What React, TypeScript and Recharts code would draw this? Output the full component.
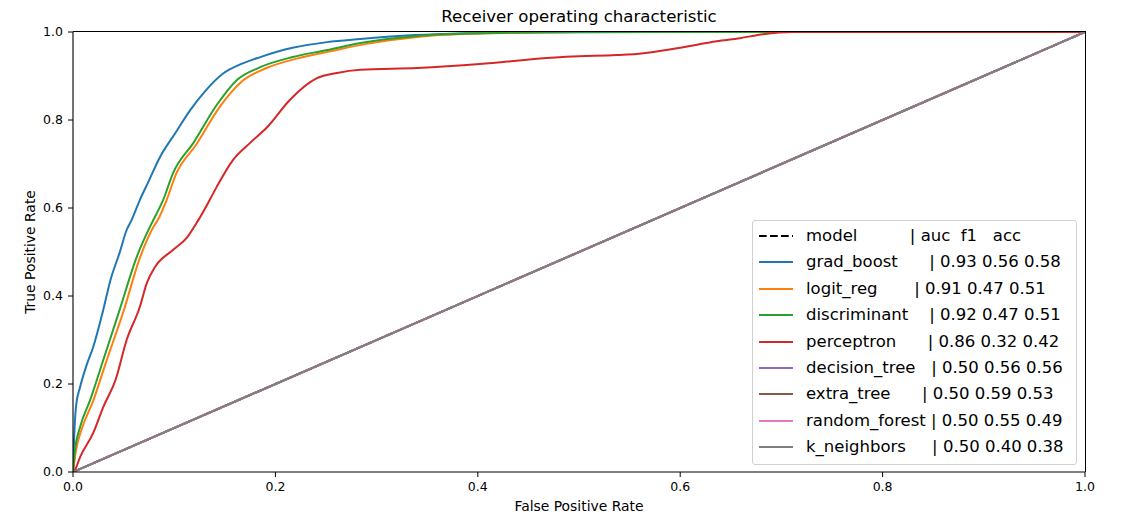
import { Line, LineChart, XAxis, YAxis } from "recharts";

// ROC points
const gradBoostFpr = [0, 0.001, 0.003, 0.007, 0.013, 0.02, 0.029, 0.037, 0.046, 0.053, 0.058, 0.066, 0.074, 0.086, 0.101, 0.116, 0.13, 0.148, 0.167, 0.185, 0.217, 0.251, 0.284, 0.33, 0.373, 0.45, 0.6, 1.0];
const gradBoostTpr = [0, 0.07, 0.15, 0.193, 0.24, 0.284, 0.36, 0.436, 0.498, 0.55, 0.573, 0.618, 0.657, 0.716, 0.77, 0.823, 0.864, 0.905, 0.928, 0.943, 0.964, 0.977, 0.984, 0.992, 0.996, 0.999, 1.0, 1.0];

const logitRegFpr = [0, 0.003, 0.009, 0.02, 0.033, 0.05, 0.066, 0.079, 0.085, 0.092, 0.102, 0.122, 0.145, 0.166, 0.19, 0.222, 0.256, 0.29, 0.345, 0.41, 0.5, 0.7, 1.0];
const logitRegTpr = [0, 0.05, 0.1, 0.162, 0.252, 0.366, 0.486, 0.555, 0.578, 0.615, 0.678, 0.745, 0.83, 0.886, 0.917, 0.94, 0.957, 0.973, 0.99, 0.997, 1.0, 1.0, 1.0];

const discriminantFpr = [0, 0.002, 0.007, 0.017, 0.03, 0.046, 0.063, 0.076, 0.081, 0.089, 0.099, 0.119, 0.142, 0.162, 0.185, 0.217, 0.251, 0.284, 0.34, 0.405, 0.5, 0.7, 1.0];
const discriminantTpr = [0, 0.05, 0.102, 0.164, 0.255, 0.368, 0.489, 0.557, 0.58, 0.618, 0.68, 0.748, 0.834, 0.891, 0.92, 0.943, 0.959, 0.975, 0.991, 0.997, 1.0, 1.0, 1.0];

const perceptronFpr = [0, 0.002, 0.007, 0.02, 0.03, 0.042, 0.053, 0.066, 0.073, 0.081, 0.099, 0.113, 0.124, 0.135, 0.142, 0.158, 0.175, 0.192, 0.214, 0.241, 0.261, 0.284, 0.34, 0.402, 0.468, 0.537, 0.557, 0.6, 0.636, 0.659, 0.682, 0.711, 1.0];
const perceptronTpr = [0, 0.005, 0.034, 0.089, 0.148, 0.209, 0.3, 0.375, 0.43, 0.466, 0.505, 0.534, 0.573, 0.618, 0.648, 0.709, 0.748, 0.784, 0.845, 0.895, 0.907, 0.914, 0.918, 0.927, 0.941, 0.948, 0.95, 0.964, 0.979, 0.986, 0.995, 1.0, 1.0];

// the tree models and knn all sit on the chance diagonal
const chanceFpr = [0, 1];
const chanceTpr = [0, 1];

const modelNames = ["grad_boost", "logit_reg", "discriminant", "perceptron", "decision_tree", "extra_tree", "random_forest", "k_neighbors"];
const legendLabels = [
  "model          | auc  f1   acc",
  "grad_boost      | 0.93 0.56 0.58",
  "logit_reg       | 0.91 0.47 0.51",
  "discriminant    | 0.92 0.47 0.51",
  "perceptron      | 0.86 0.32 0.42",
  "decision_tree   | 0.50 0.56 0.56",
  "extra_tree      | 0.50 0.59 0.53",
  "random_forest | 0.50 0.55 0.49",
  "k_neighbors     | 0.50 0.40 0.38",
];
const axisTicks = [0, 0.2, 0.4, 0.6, 0.8, 1.0];

const COLORS = ["#1f77b4", "#ff7f0e", "#2ca02c", "#d62728", "#9467bd", "#8c564b", "#e377c2", "#7f7f7f"];
const FONT = "'DejaVu Sans', sans-serif";

function pts(xs: number[], ys: number[]) {
  return xs.map((x, i) => ({ x, y: ys[i] }));
}

const curves = [
  pts(gradBoostFpr, gradBoostTpr),
  pts(logitRegFpr, logitRegTpr),
  pts(discriminantFpr, discriminantTpr),
  pts(perceptronFpr, perceptronTpr),
  pts(chanceFpr, chanceTpr),
  pts(chanceFpr, chanceTpr),
  pts(chanceFpr, chanceTpr),
  pts(chanceFpr, chanceTpr),
];

const tickStyle = { fill: "#000", fontSize: 12.5, fontFamily: FONT };
const frameLine = { stroke: "#000", strokeWidth: 1.1 };

function RocLegend() {
  return (
    <div
      style={{
        position: "absolute",
        left: 752,
        top: 220,
        width: 323,
        height: 243,
        border: "1px solid #d0d0d0",
        borderRadius: 3,
        background: "rgba(255,255,255,0.8)",
      }}
    >
      {legendLabels.map((label, i) => {
        const cy = 15 + i * 26.4;
        return (
          <div key={label} style={{ position: "absolute", left: 0, top: cy - 10, height: 20, width: 320 }}>
            <svg width={42} height={20} style={{ position: "absolute", left: 6, top: 0 }}>
              <line
                x1={0}
                x2={34}
                y1={10}
                y2={10}
                stroke={i === 0 ? "#000" : COLORS[i - 1]}
                strokeWidth={2}
                strokeDasharray={i === 0 ? "7.7 3.3" : undefined}
              />
            </svg>
            <span
              style={{
                position: "absolute",
                left: 53,
                top: 0,
                lineHeight: "20px",
                fontSize: 16.5,
                fontFamily: FONT,
                whiteSpace: "pre",
                color: "#000",
              }}
            >
              {label}
            </span>
          </div>
        );
      })}
    </div>
  );
}

export default function App() {
  return (
    <div style={{ position: "absolute", left: 0, top: 0, width: 1135, height: 523, background: "#fff" }}>
      <div
        style={{
          position: "absolute",
          left: 73,
          top: 7,
          width: 1012,
          textAlign: "center",
          fontFamily: FONT,
          fontSize: 16.6,
          lineHeight: "20px",
          color: "#000",
        }}
      >
        Receiver operating characteristic
      </div>
      <LineChart width={1135} height={523} margin={{ top: 32, right: 50, bottom: 11, left: 13 }}>
        <XAxis
          type="number"
          dataKey="x"
          domain={[0, 1]}
          ticks={axisTicks}
          tickFormatter={(v: number) => v.toFixed(1)}
          allowDataOverflow
          height={40}
          tick={tickStyle}
          tickSize={5}
          tickMargin={5}
          stroke="#000"
          axisLine={frameLine}
          tickLine={{ stroke: "#000" }}
          label={{ value: "False Positive Rate", position: "insideBottom", offset: 1, fill: "#000", fontSize: 13.9, fontFamily: FONT }}
        />
        <YAxis
          type="number"
          dataKey="y"
          domain={[0, 1]}
          ticks={axisTicks}
          tickFormatter={(v: number) => v.toFixed(1)}
          allowDataOverflow
          width={60}
          tick={tickStyle}
          tickSize={5}
          tickMargin={5}
          stroke="#000"
          axisLine={frameLine}
          tickLine={{ stroke: "#000" }}
          label={{
            value: "True Positive Rate",
            angle: -90,
            position: "insideLeft",
            offset: 17,
            fill: "#000",
            fontSize: 13.9,
            fontFamily: FONT,
            style: { textAnchor: "middle" },
          }}
        />
        <Line
          data={pts(chanceFpr, chanceTpr)}
          dataKey="y"
          name="model"
          type="linear"
          stroke="#000"
          strokeDasharray="7.7 3.3"
          strokeWidth={2}
          dot={false}
          isAnimationActive={false}
        />
        {curves.map((d, i) => (
          <Line
            key={modelNames[i]}
            data={d}
            dataKey="y"
            name={modelNames[i]}
            type="monotone"
            stroke={COLORS[i]}
            strokeWidth={2}
            dot={false}
            isAnimationActive={false}
          />
        ))}
      </LineChart>
      {/* top and right spines of the axes box */}
      <div
        style={{
          position: "absolute",
          left: 73,
          top: 31,
          width: 1013,
          height: 441,
          boxSizing: "border-box",
          borderTop: "1px solid #000",
          borderRight: "1px solid #000",
          pointerEvents: "none",
        }}
      />
      <RocLegend />
    </div>
  );
}
